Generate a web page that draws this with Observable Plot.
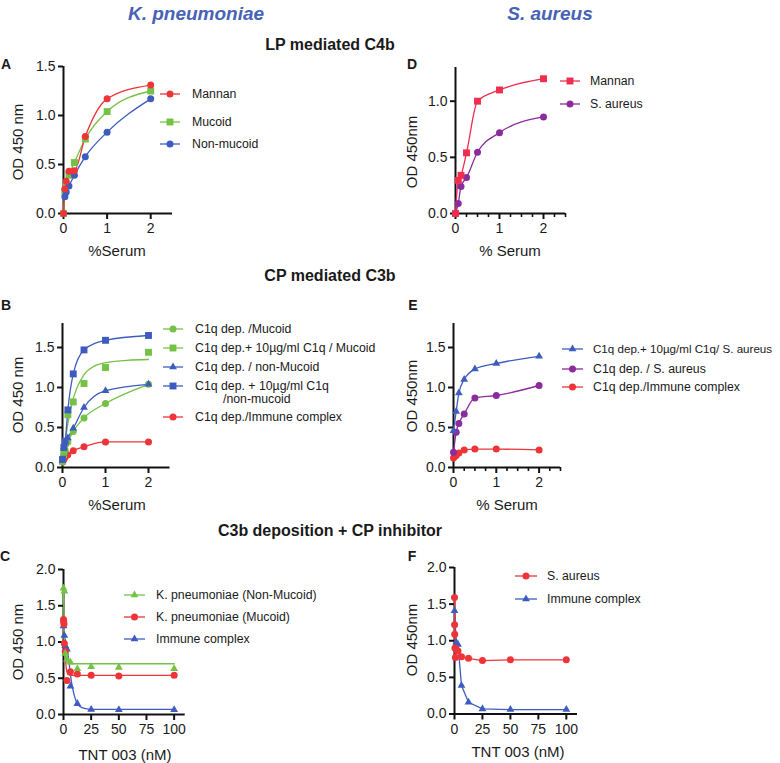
<!DOCTYPE html>
<html><head><meta charset="utf-8">
<script src="https://cdn.jsdelivr.net/npm/d3@7"></script>
<script src="https://cdn.jsdelivr.net/npm/@observablehq/plot@0.6"></script>
<style>
body{margin:0;background:#fff;}
#root{position:relative;width:780px;height:763px;overflow:hidden;font-family:"Liberation Sans",Arial,sans-serif;background:#fff;}
svg.pp text{font-size:14px;font-family:"Liberation Sans",Arial,sans-serif;fill:#1a1a1a;}
</style></head><body><div id="root"></div>
<script>
// ---------- DATA ----------
const RED = "#ec3439", GREEN = "#74c145", BLUE = "#3e5cbf", PURPLE = "#8c2b9d", PINK = "#ef2d4e", TITLEBLUE = "#4862b6";

// Panel A: LP mediated C4b, K. pneumoniae
const serumX = [0, 0.03125, 0.0625, 0.125, 0.25, 0.5, 1, 2];
const aMannan = [0, 0.25, 0.33, 0.43, 0.435, 0.785, 1.17, 1.31];
const aMucoid = [0, 0.22, 0.29, 0.39, 0.52, 0.76, 1.04, 1.25];
const aNonMucoidX = [0.03125, 0.0625, 0.125, 0.25, 0.5, 1, 2];
const aNonMucoid = [0.17, 0.22, 0.28, 0.39, 0.58, 0.83, 1.17];

// Panel D: LP mediated C4b, S. aureus
const dX = [0, 0.0625, 0.125, 0.25, 0.5, 1, 2];
const dMannan = [0, 0.295, 0.34, 0.54, 1.0, 1.10, 1.20];
const dSaureus = [0, 0.09, 0.24, 0.32, 0.545, 0.72, 0.86];

// Panel B: CP mediated C3b, K. pneumoniae
const bMucoid = [0.07, 0.15, 0.22, 0.32, 0.45, 0.62, 0.80, 1.04];
const bMucoidC1q = [0.08, 0.20, 0.30, 0.66, 0.82, 1.05, 1.25, 1.44];
const bMucoidC1qFitX = [0, 0.0625, 0.125, 0.25, 0.5, 0.75, 1, 1.5, 2];
const bMucoidC1qFit = [0.08, 0.32, 0.55, 0.86, 1.16, 1.27, 1.31, 1.34, 1.35];
const bNonMucoid = [0.08, 0.18, 0.30, 0.37, 0.49, 0.75, 0.96, 1.04];
const bNonMucoidC1q = [0.10, 0.25, 0.33, 0.72, 1.17, 1.47, 1.59, 1.65];
const bImmune = [0.07, 0.10, 0.13, 0.16, 0.21, 0.26, 0.32, 0.32];

// Panel E: CP mediated C3b, S. aureus
const eX = [0, 0.0625, 0.125, 0.25, 0.5, 1, 2];
const eSaureusC1q = [0.46, 0.70, 0.93, 1.10, 1.23, 1.30, 1.39];
const eSaureus = [0.19, 0.44, 0.55, 0.67, 0.87, 0.90, 1.025];
const eImmune = [0.12, 0.14, 0.15, 0.18, 0.22, 0.23, 0.23, 0.22];

// Panel C: C3b deposition + CP inhibitor, K. pneumoniae
const cNonMucoidX = [0, 0.78, 1.56, 3.125, 6.25, 12.5, 25, 50, 100];
const cNonMucoid = [1.74, 1.70, 0.84, 0.76, 0.72, 0.63, 0.66, 0.65, 0.63];
const cMucoidX = [0, 0.2, 0.39, 0.78, 1.56, 3.125, 6.25, 12.5, 25, 50, 100];
const cMucoid = [1.31, 1.28, 1.25, 0.98, 0.87, 0.47, 0.59, 0.56, 0.54, 0.53, 0.54];
const cImmuneX = [0, 0.78, 1.56, 3.125, 6.25, 12.5, 25, 50, 100];
const cImmune = [1.22, 1.09, 0.95, 0.90, 0.39, 0.15, 0.07, 0.065, 0.065];
const cFitX = [0, 0.5, 1, 2, 3, 4, 5, 6, 8, 10, 12.5, 15, 20, 25, 50, 100];
const cNonMucoidFit = [1.74, 1.20, 0.86, 0.75, 0.72, 0.705, 0.70, 0.70, 0.70, 0.70, 0.70, 0.70, 0.70, 0.70, 0.70, 0.70];
const cMucoidFit = [1.31, 1.12, 0.96, 0.72, 0.59, 0.555, 0.545, 0.54, 0.54, 0.54, 0.54, 0.54, 0.54, 0.54, 0.54, 0.54];
const cImmuneFit = [1.22, 1.16, 1.09, 1.0, 0.93, 0.84, 0.72, 0.58, 0.38, 0.25, 0.15, 0.11, 0.08, 0.07, 0.07, 0.07];

// Panel F: C3b deposition + CP inhibitor, S. aureus
const fSaureusX = [0, 0.1, 0.2, 0.39, 0.78, 1.56, 3.125, 6.25, 12.5, 25, 50, 100];
const fSaureus = [1.59, 1.22, 1.09, 0.90, 0.77, 0.88, 0.86, 0.78, 0.76, 0.73, 0.74, 0.74];
const fImmuneX = [0, 1.56, 3.125, 6.25, 12.5, 25, 50, 100];
const fImmune = [1.41, 0.98, 0.95, 0.39, 0.16, 0.07, 0.06, 0.06];

// Ticks
const serumTicks = [0, 1, 2];
const serumMinor = [0.25, 0.5, 0.75, 1.25, 1.5, 1.75, 2.25, 2.5];
const tntTicks = [0, 25, 50, 75, 100];
const odTicks15 = [0, 0.5, 1.0, 1.5];
const odTicks10 = [0, 0.5, 1.0];
const odTicks20 = [0, 0.5, 1.0, 1.5, 2.0];

// ---------- DRAWING ----------
const root = document.getElementById("root");
const FONT = "'Liberation Sans', Arial, sans-serif";
const SIZE = {circle: 3.5, square: 3.9, triangle: 2.9};

function panel(cfg) {
  const marks = [
    Plot.ruleX([0], {stroke: "#111", strokeWidth: 2}),
    Plot.ruleY([0], {stroke: "#111", strokeWidth: 2}),
    Plot.axisY({ticks: cfg.yTicks, tickSize: 5, tickPadding: 3, strokeWidth: 2, tickFormat: d => d.toFixed(1), label: null}),
    Plot.axisX({ticks: cfg.xTicks, tickSize: 6, tickPadding: 4, strokeWidth: 2, tickFormat: d => String(d), label: null})
  ];
  if (cfg.xMinor) marks.push(Plot.axisX({ticks: cfg.xMinor, tickSize: 4, strokeWidth: 1.6, tickFormat: () => "", label: null}));
  for (const s of cfg.series) {
    const lx = s.fitX || s.x, ly = s.fitY || s.y;
    marks.push(Plot.line(lx.map((x, i) => ({x, y: ly[i]})), {x: "x", y: "y", stroke: s.color, strokeWidth: 1.3, curve: cfg.curve || "monotone-x"}));
  }
  for (const s of cfg.series) {
    marks.push(Plot.dot(s.x.map((x, i) => ({x, y: s.y[i]})), {x: "x", y: "y", fill: s.color, stroke: "none", r: SIZE[s.symbol], symbol: s.symbol}));
  }
  const svg = Plot.plot({
    className: "pp",
    width: cfg.w, height: cfg.h,
    marginLeft: cfg.ml, marginRight: cfg.mr, marginTop: cfg.mt, marginBottom: cfg.mb,
    x: {domain: cfg.xDomain}, y: {domain: cfg.yDomain},
    style: {fontFamily: FONT, fontSize: "14px", background: "transparent", color: "#111", overflow: "visible"},
    marks
  });
  svg.style.position = "absolute";
  svg.style.left = cfg.left + "px";
  svg.style.top = cfg.top + "px";
  root.appendChild(svg);
}

// A
panel({left: 0, top: 50, w: 190, h: 200, ml: 63, mr: 18, mt: 16, mb: 37, xDomain: [0, 2.5], yDomain: [0, 1.5],
  xTicks: serumTicks, yTicks: odTicks15,
  series: [
    {x: serumX, y: aMucoid, color: GREEN, symbol: "square"},
    {x: aNonMucoidX, y: aNonMucoid, color: BLUE, symbol: "circle"},
    {x: serumX, y: aMannan, color: RED, symbol: "circle"}
  ]});
// D
panel({left: 390, top: 50, w: 190, h: 200, ml: 65, mr: 15, mt: 17, mb: 37, xDomain: [0, 2.5], yDomain: [0, 1.3],
  xTicks: serumTicks, xMinor: serumMinor, yTicks: odTicks10,
  series: [
    {x: dX, y: dSaureus, color: PURPLE, symbol: "circle"},
    {x: dX, y: dMannan, color: PINK, symbol: "square"}
  ]});
// B
panel({left: 0, top: 300, w: 190, h: 200, ml: 62, mr: 20.5, mt: 23, mb: 33, xDomain: [0, 2.5], yDomain: [0, 1.8],
  xTicks: serumTicks, yTicks: odTicks15,
  series: [
    {x: serumX, y: bImmune, color: RED, symbol: "circle"},
    {x: serumX, y: bMucoid, color: GREEN, symbol: "circle"},
    {x: serumX, y: bNonMucoid, color: BLUE, symbol: "triangle"},
    {x: serumX, y: bMucoidC1q, fitX: bMucoidC1qFitX, fitY: bMucoidC1qFit, color: GREEN, symbol: "square"},
    {x: serumX, y: bNonMucoidC1q, color: BLUE, symbol: "square"}
  ]});
// E
panel({left: 390, top: 300, w: 190, h: 200, ml: 63, mr: 20, mt: 23, mb: 33, xDomain: [0, 2.5], yDomain: [0, 1.8],
  xTicks: serumTicks, xMinor: serumMinor, yTicks: odTicks15,
  series: [
    {x: serumX, y: eImmune, color: RED, symbol: "circle"},
    {x: eX, y: eSaureus, color: PURPLE, symbol: "circle"},
    {x: eX, y: eSaureusC1q, color: BLUE, symbol: "triangle"}
  ]});
// C
panel({left: 0, top: 550, w: 200, h: 200, ml: 63, mr: 15.3, mt: 19, mb: 36, xDomain: [0, 110], yDomain: [0, 2.0],
  xTicks: tntTicks, yTicks: odTicks20, curve: "monotone-x",
  series: [
    {x: cImmuneX, y: cImmune, fitX: cFitX, fitY: cImmuneFit, color: BLUE, symbol: "triangle"},
    {x: cMucoidX, y: cMucoid, fitX: cFitX, fitY: cMucoidFit, color: RED, symbol: "circle"},
    {x: cNonMucoidX, y: cNonMucoid, fitX: cFitX, fitY: cNonMucoidFit, color: GREEN, symbol: "triangle"}
  ]});
// F
panel({left: 390, top: 550, w: 200, h: 200, ml: 64, mr: 13, mt: 17, mb: 36.5, xDomain: [0, 110], yDomain: [0, 2.0],
  xTicks: tntTicks, yTicks: odTicks20, curve: "linear",
  series: [
    {x: fImmuneX, y: fImmune, color: BLUE, symbol: "triangle"},
    {x: fSaureusX, y: fSaureus, color: RED, symbol: "circle"}
  ]});

// ---------- Overlay: titles, labels, legends ----------
const ov = d3.select(root).append("svg")
  .attr("width", 780).attr("height", 763)
  .style("position", "absolute").style("left", "0px").style("top", "0px")
  .style("font-family", FONT);

function txt(x, y, s, o = {}) {
  const t = ov.append("text").attr("x", x).attr("y", y).attr("dy", "0.35em")
    .attr("text-anchor", o.anchor || "middle")
    .attr("font-size", o.size || 15)
    .attr("font-weight", o.weight || "normal")
    .attr("font-style", o.style || "normal")
    .attr("fill", o.fill || "#1a1a1a")
    .text(s);
  if (o.rotate) t.attr("x", 0).attr("y", 0).attr("transform", `translate(${x},${y}) rotate(-90)`);
  return t;
}

txt(196, 13, "K. pneumoniae", {size: 19, weight: "bold", style: "italic", fill: TITLEBLUE});
txt(550, 13, "S. aureus", {size: 19, weight: "bold", style: "italic", fill: TITLEBLUE});
txt(330, 44, "LP mediated C4b", {size: 16, weight: "bold"});
txt(330, 275, "CP mediated C3b", {size: 16, weight: "bold"});
txt(330, 530, "C3b deposition + CP inhibitor", {size: 16, weight: "bold"});

for (const [l, x, y] of [["A", 6, 64], ["B", 6, 305], ["C", 5, 556], ["D", 412, 64], ["E", 413, 305], ["F", 412, 556]])
  txt(x, y, l, {size: 14, weight: "bold"});

txt(18, 142, "OD 450 nm", {rotate: true});
txt(117, 251, "%Serum");
txt(412, 152, "OD 450nm", {rotate: true});
txt(510, 251, "% Serum");
txt(18, 395, "OD 450 nm", {rotate: true});
txt(117, 505, "%Serum");
txt(412, 396, "OD 450nm", {rotate: true});
txt(507, 505, "% Serum");
txt(18, 642, "OD 450 nm", {rotate: true});
txt(125, 755, "TNT 003 (nM)");
txt(412, 640, "OD 450nm", {rotate: true});
txt(518, 752, "TNT 003 (nM)");

function legend(x1, x2, tx, rows) {
  for (const r of rows) {
    ov.append("line").attr("x1", x1).attr("x2", x2).attr("y1", r.y).attr("y2", r.y).attr("stroke", r.color).attr("stroke-width", 1.3);
    const sym = {circle: d3.symbolCircle, square: d3.symbolSquare, triangle: d3.symbolTriangle}[r.symbol];
    const rr = SIZE[r.symbol];
    ov.append("path").attr("d", d3.symbol(sym, Math.PI * rr * rr)()).attr("transform", `translate(${(x1 + x2) / 2},${r.y})`).attr("fill", r.color);
    txt(tx, r.y, r.label, {anchor: "start", size: r.size || 12.3});
    if (r.label2) txt(r.x2, r.y2, r.label2, {anchor: "start", size: 12.3});
  }
}

legend(160, 180, 192, [
  {y: 94, label: "Mannan", color: RED, symbol: "circle"},
  {y: 122, label: "Mucoid", color: GREEN, symbol: "square"},
  {y: 144, label: "Non-mucoid", color: BLUE, symbol: "circle"}
]);
legend(560, 580, 590, [
  {y: 81, label: "Mannan", color: PINK, symbol: "square"},
  {y: 104, label: "S. aureus", color: PURPLE, symbol: "circle"}
]);
legend(163, 183, 195, [
  {y: 329, label: "C1q dep. /Mucoid", color: GREEN, symbol: "circle"},
  {y: 348, label: "C1q dep.+ 10µg/ml C1q / Mucoid", color: GREEN, symbol: "square"},
  {y: 367, label: "C1q dep. / non-Mucoid", color: BLUE, symbol: "triangle"},
  {y: 386, label: "C1q dep. + 10µg/ml C1q", color: BLUE, symbol: "square", label2: "/non-mucoid", x2: 223, y2: 399},
  {y: 417, label: "C1q dep./Immune complex", color: RED, symbol: "circle"}
]);
legend(562, 583, 593, [
  {y: 349, label: "C1q dep.+ 10µg/ml C1q/ S. aureus", color: BLUE, symbol: "triangle", size: 11.6},
  {y: 369, label: "C1q dep. / S. aureus", color: PURPLE, symbol: "circle"},
  {y: 387, label: "C1q dep./Immune complex", color: RED, symbol: "circle"}
]);
legend(124, 145, 156, [
  {y: 595, label: "K. pneumoniae (Non-Mucoid)", color: GREEN, symbol: "triangle"},
  {y: 617, label: "K. pneumoniae (Mucoid)", color: RED, symbol: "circle"},
  {y: 639, label: "Immune complex", color: BLUE, symbol: "triangle"}
]);
legend(515, 537, 547, [
  {y: 576, label: "S. aureus", color: RED, symbol: "circle"},
  {y: 599, label: "Immune complex", color: BLUE, symbol: "triangle"}
]);
</script></body></html>
